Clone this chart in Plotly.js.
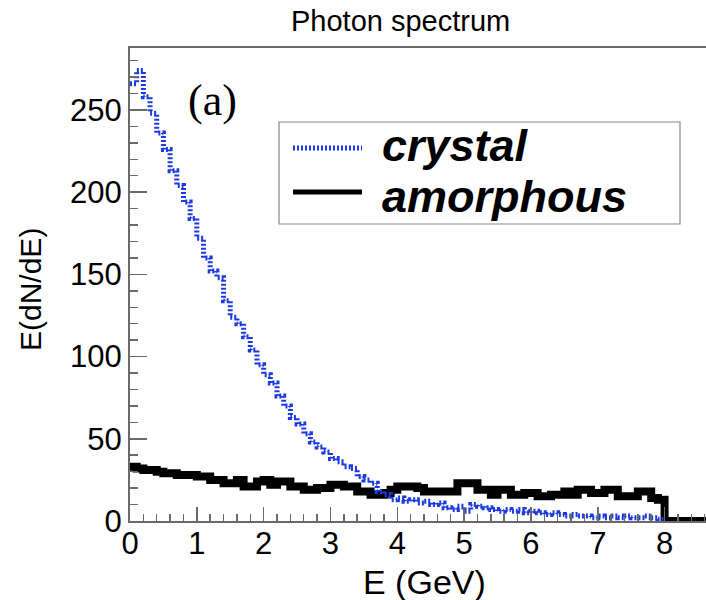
<!DOCTYPE html>
<html>
<head>
<meta charset="utf-8">
<script src="https://cdn.plot.ly/plotly-3.0.1.min.js"></script>
<style>html,body{margin:0;padding:0;background:#fff;}#chart{width:706px;height:600px;}</style>
</head>
<body>
<div id="chart"></div>
<script>
// Histogram binning (GeV)
const binWidth = 0.1;
const nBins = 80;

// Photon spectrum E(dN/dE), crystal target (0.1 GeV bins, 0 - 8 GeV)
const crystal = [
  266, 274, 258, 248, 236, 226, 213, 204, 194, 184,
  172, 160, 152, 148, 134, 124, 120, 112, 104, 95,
  89, 84, 76, 70, 63, 59, 53, 48, 45, 42,
  38, 36, 33, 32, 27, 25, 23, 18, 16, 13,
  14, 12, 13, 11, 12, 10, 11, 8, 7, 9,
  6, 10, 9, 8, 7, 6, 7, 6, 7, 5,
  6, 5, 4, 5, 4, 3, 4, 3, 3, 2,
  3, 2, 3, 2, 3, 2, 2, 3, 2, 1
];

// Photon spectrum E(dN/dE), amorphous target
const amorphous = [
  33, 32, 31, 31, 30, 29, 29, 28, 28, 28,
  27, 27, 25, 25, 23, 23, 25, 21, 21, 24,
  25, 22, 24, 24, 21, 21, 19, 19, 20, 20,
  22, 22, 21, 21, 18, 18, 16, 16, 17, 19,
  21, 21, 21, 20, 18, 18, 18, 18, 18, 23,
  23, 23, 19, 19, 16, 19, 19, 16, 16, 17,
  17, 15, 15, 16, 16, 18, 16, 19, 19, 17,
  17, 19, 19, 15, 15, 15, 18, 18, 14, 13
];

const seriesNames = ["crystal", "amorphous"];
const yTickVals = [0, 50, 100, 150, 200, 250];
const xTickVals = [0, 1, 2, 3, 4, 5, 6, 7, 8];

function stepXY(vals, tailTo) {
  const x = [], y = [];
  for (let i = 0; i < vals.length; i++) { x.push(+(i * binWidth).toFixed(3)); y.push(vals[i]); }
  x.push(nBins * binWidth); y.push(vals[vals.length - 1]);
  if (tailTo !== undefined) { x.push(nBins * binWidth); y.push(0); x.push(tailTo); y.push(0); }
  return {x, y};
}

const am = stepXY(amorphous, 9);
const cr = stepXY(crystal);

const blue = '#1b3ae2';
const traces = [
  {x: am.x, y: am.y, type: 'scatter', mode: 'lines', line: {shape: 'hv', color: '#000', width: 8}, name: seriesNames[1], showlegend: false},
  {x: cr.x, y: cr.y, type: 'scatter', mode: 'lines', line: {shape: 'hv', color: blue, width: 5, dash: '2px,2px'}, name: seriesNames[0], showlegend: false}
];

// plot-area pixel geometry
const L = 130, T = 48, W = 576, H = 473;
const px = X => (X - L) / W;
const py = Y => (T + H - Y) / H;

const font = 'Liberation Sans, Arial, Helvetica, sans-serif';
const axCol = '#6a6a6a';

const layout = {
  width: 706, height: 600,
  margin: {l: 130, r: 0, t: 48, b: 79, pad: 0},
  paper_bgcolor: '#fff', plot_bgcolor: '#fff',
  showlegend: false,
  xaxis: {
    range: [0, 8.62], showgrid: false, zeroline: false,
    showline: true, linecolor: axCol, linewidth: 2, mirror: true,
    tickmode: 'array', tickvals: xTickVals, ticktext: xTickVals.map(String),
    ticks: 'inside', ticklen: 14, tickwidth: 1.5, tickcolor: axCol,
    ticklabelstandoff: -6,
    minor: {dtick: 0.2, ticks: 'inside', ticklen: 7, tickwidth: 1.5, tickcolor: axCol, showgrid: false},
    tickfont: {family: font, size: 31, color: '#000'}
  },
  yaxis: {
    range: [0, 287.7], showgrid: false, zeroline: false,
    showline: true, linecolor: axCol, linewidth: 2,
    tickmode: 'array', tickvals: yTickVals, ticktext: yTickVals.map(String),
    ticks: 'inside', ticklen: 17, tickwidth: 1.5, tickcolor: axCol,
    minor: {dtick: 10, ticks: 'inside', ticklen: 8, tickwidth: 1.5, tickcolor: axCol, showgrid: false},
    tickfont: {family: font, size: 31, color: '#000'}
  },
  shapes: [
    {type: 'rect', xref: 'paper', yref: 'paper', x0: px(279), x1: px(680), y0: py(224), y1: py(122),
     line: {color: '#888', width: 1.2}, fillcolor: 'rgba(255,255,255,0)'},
    {type: 'line', xref: 'paper', yref: 'paper', x0: px(293), x1: px(362), y0: py(148), y1: py(148),
     line: {color: blue, width: 5, dash: '2px,2px'}},
    {type: 'line', xref: 'paper', yref: 'paper', x0: px(293), x1: px(362), y0: py(192), y1: py(192),
     line: {color: '#000', width: 5}}
  ],
  annotations: [
    {text: 'Photon spectrum', xref: 'paper', yref: 'paper', x: px(400), y: py(21), showarrow: false,
     xanchor: 'center', yanchor: 'middle', font: {family: font, size: 29, color: '#000'}},
    {text: 'E(dN/dE)', xref: 'paper', yref: 'paper', x: px(30), y: py(290), showarrow: false, textangle: -90,
     xanchor: 'center', yanchor: 'middle', font: {family: font, size: 30, color: '#000'}},
    {text: 'E (GeV)', xref: 'paper', yref: 'paper', x: px(424), y: py(582), showarrow: false,
     xanchor: 'center', yanchor: 'middle', font: {family: font, size: 34, color: '#000'}},
    {text: '(a)', xref: 'paper', yref: 'paper', x: px(212), y: py(100), showarrow: false,
     xanchor: 'center', yanchor: 'middle', font: {family: 'Liberation Serif, Times New Roman, serif', size: 44, color: '#000'}},
    {text: '<b><i>' + seriesNames[0] + '</i></b>', xref: 'paper', yref: 'paper', x: px(380), y: py(145), showarrow: false,
     xanchor: 'left', yanchor: 'middle', font: {family: font, size: 45, color: '#000'}},
    {text: '<b><i>' + seriesNames[1] + '</i></b>', xref: 'paper', yref: 'paper', x: px(380), y: py(196), showarrow: false,
     xanchor: 'left', yanchor: 'middle', font: {family: font, size: 45, color: '#000'}}
  ]
};

Plotly.newPlot('chart', traces, layout, {displayModeBar: false, staticPlot: true});
</script>
</body>
</html>
